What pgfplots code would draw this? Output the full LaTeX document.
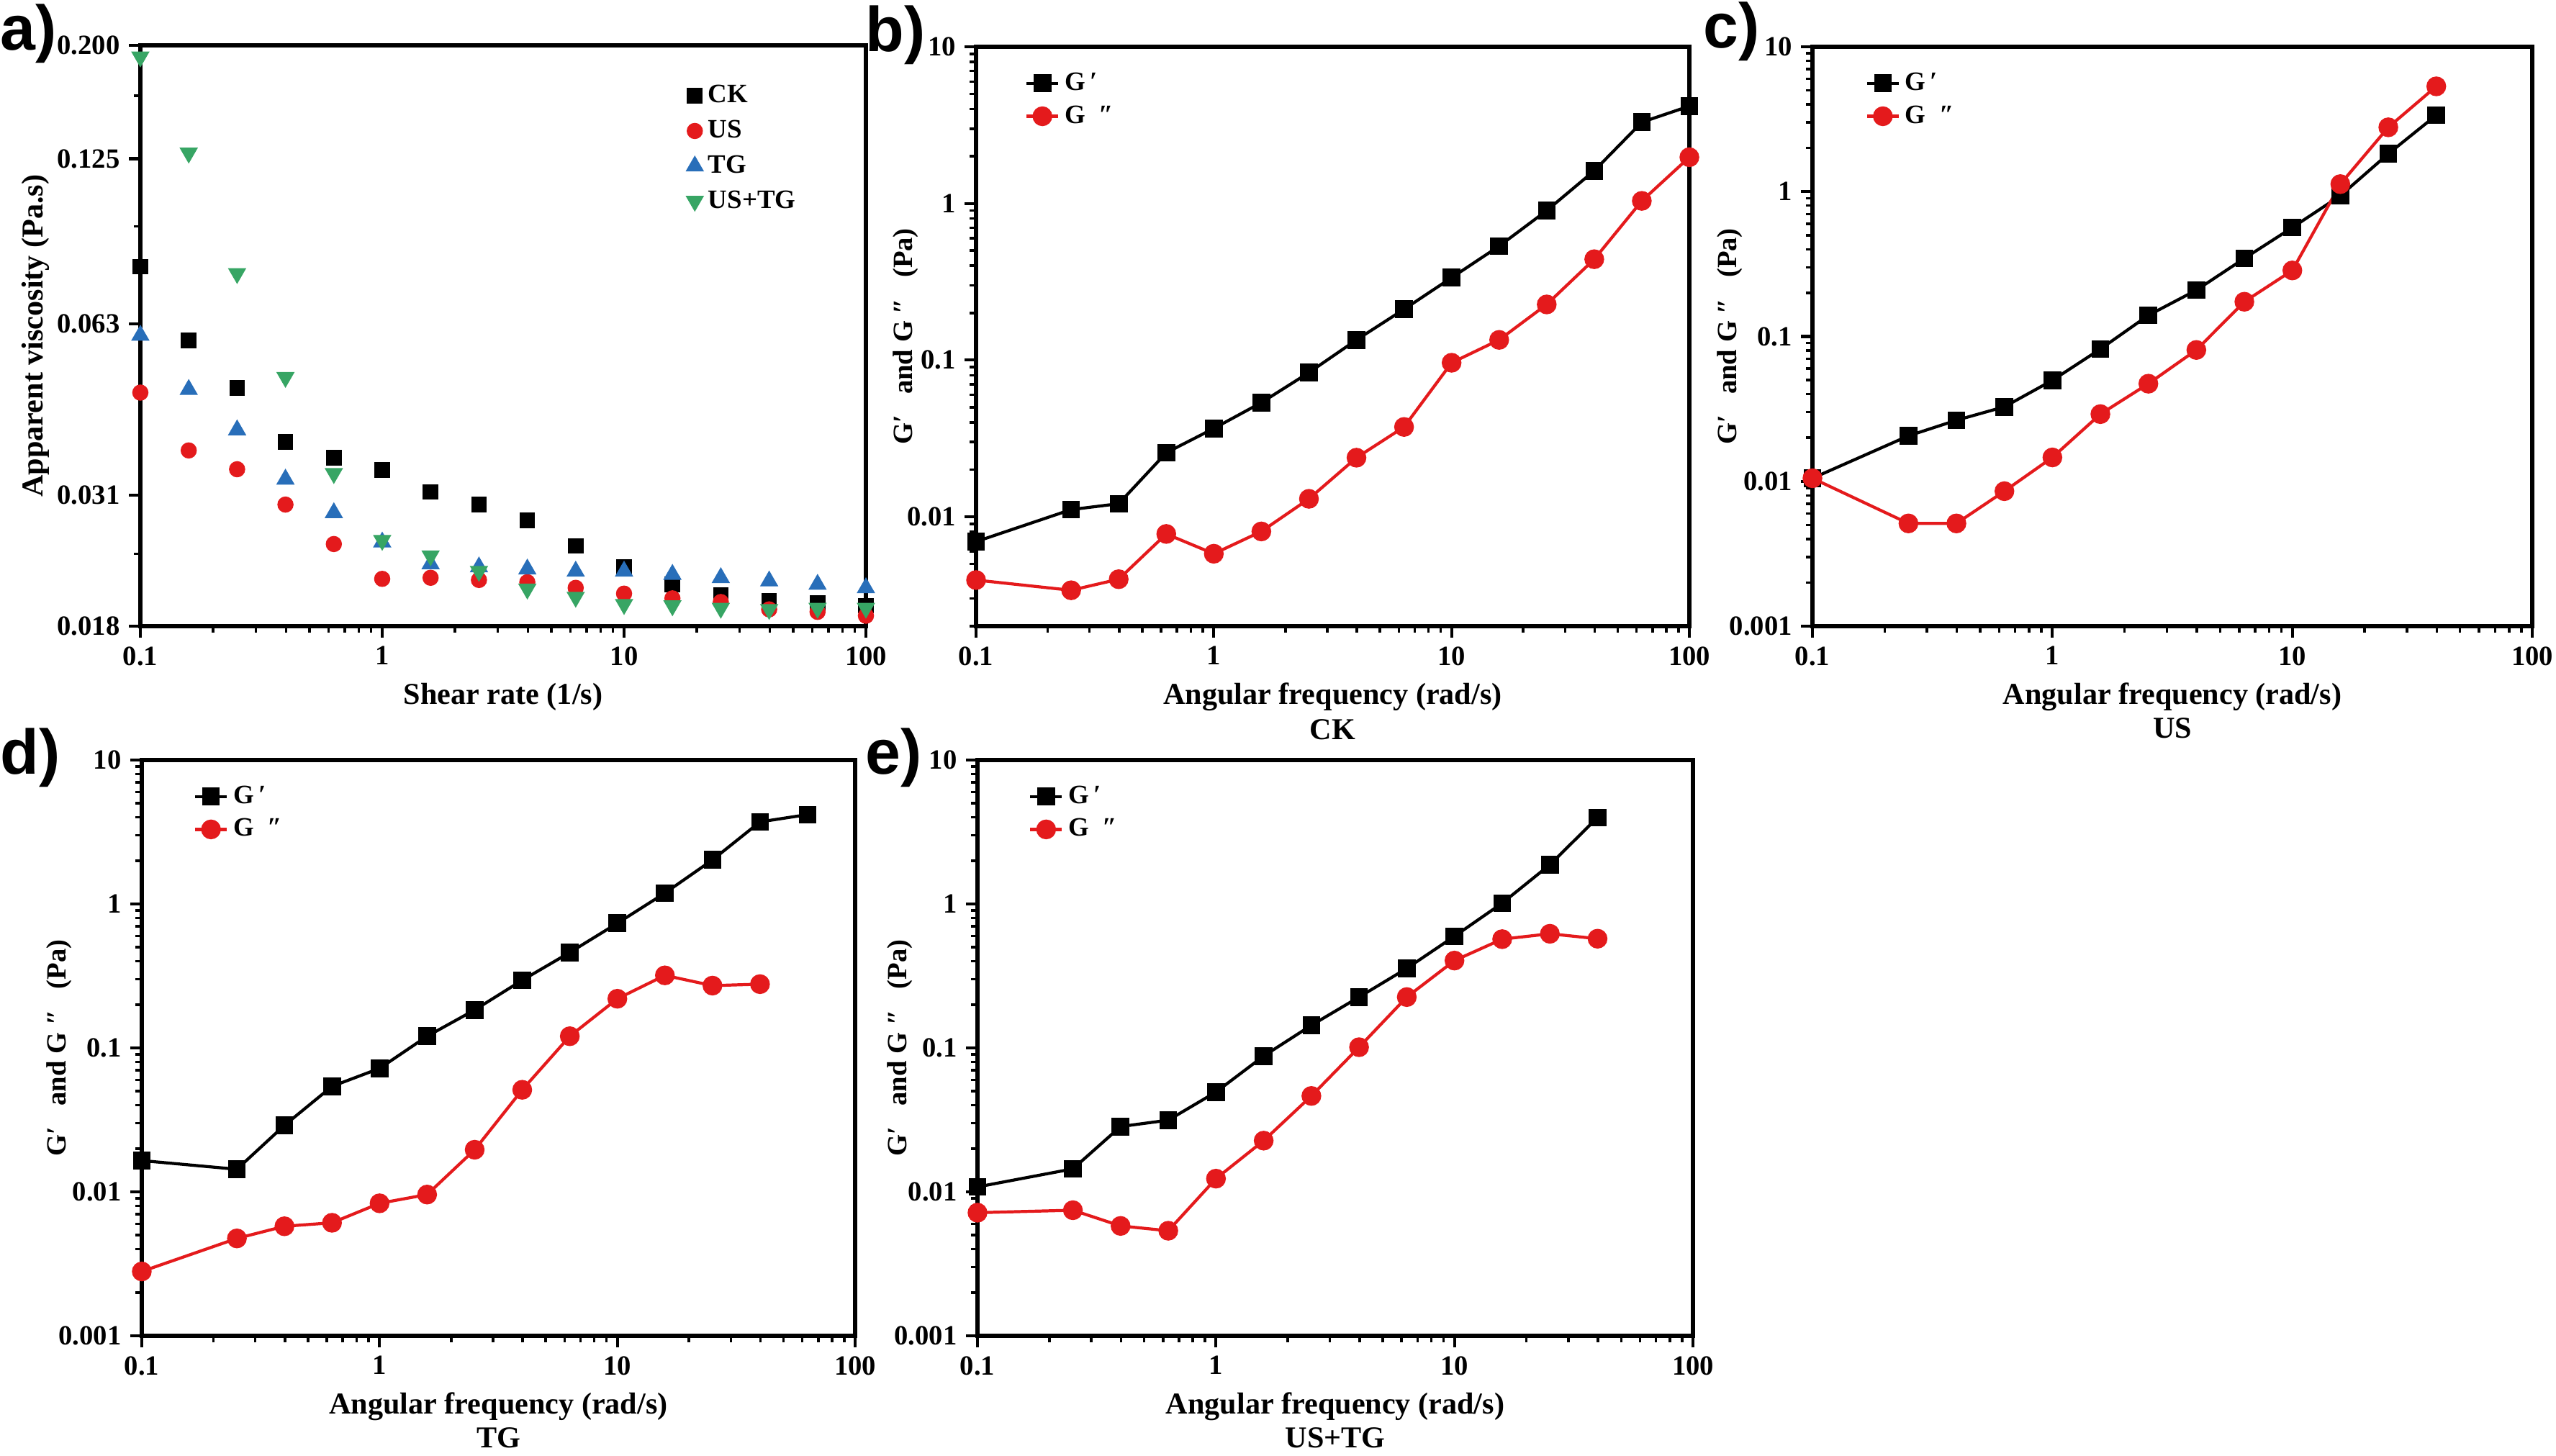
\documentclass[border=0pt]{standalone}
\usepackage{fontspec}
\setmainfont{Liberation Serif}
\newfontfamily\lettfont{Liberation Sans}
\usepackage{pgfplots}
\pgfplotsset{compat=1.18}
\definecolor{myred}{RGB}{228,26,28}
\definecolor{myblue}{RGB}{40,110,185}
\definecolor{mygreen}{RGB}{55,165,100}
\pgfplotsset{
  every axis/.append style={
    scale only axis,
    xmin=0.1, xmax=100,
    axis line style={line width=1.5pt},
    tick pos=left, tick align=outside,
    major tick length=0.16cm, minor tick length=0.09cm,
    every major tick/.append style={line width=1.2pt, black},
    every minor tick/.append style={line width=1pt, black},
    xtick={0.1,1,10,100},
    xticklabels={0.1,1,10,100},
    minor xtick={0.2,0.3,0.4,0.5,0.6,0.7,0.8,0.9,2,3,4,5,6,7,8,9,20,30,40,50,60,70,80,90},
    tick label style={font=\bfseries\fontsize{11}{13}\selectfont},
    xlabel style={align=center, font=\bfseries\fontsize{12}{14}\selectfont},
    ylabel style={anchor=center, font=\bfseries\fontsize{11}{13}\selectfont},
    legend style={draw=none, fill=none, anchor=north west, inner sep=0pt,
      font=\bfseries\fontsize{10.5}{12}\selectfont, row sep=0.02cm,
      cells={anchor=west}},
  },
  gaxis/.style={
    ytick={0.001,0.01,0.1,1,10},
    yticklabels={0.001,0.01,0.1,1,10},
    minor ytick={0.002,0.003,0.004,0.005,0.006,0.007,0.008,0.009,0.02,0.03,0.04,0.05,0.06,0.07,0.08,0.09,0.2,0.3,0.4,0.5,0.6,0.7,0.8,0.9,2,3,4,5,6,7,8,9},
    legend image code/.code={\draw[mark repeat=2,mark phase=2,##1] plot coordinates {(0cm,0cm) (0.22cm,0cm) (0.44cm,0cm)};},
  },
  gp/.style={black, line width=1.2pt, mark=square*, mark size=2.9pt},
  gpp/.style={myred, line width=1.2pt, mark=*, mark size=3.3pt},
}
\newcommand{\gylabel}{G′\enspace\ and G ″\enspace\ (Pa)}
\begin{document}
\begin{tikzpicture}
\useasboundingbox (0,0) rectangle (35.51,20.22);

% ---------------- a) ----------------
\begin{loglogaxis}[at={(1.95cm,11.52cm)}, anchor=south west,
  width=10.08cm, height=8.07cm,
  ymin=0.018, ymax=0.2,
  ytick={0.018,0.031,0.063,0.125,0.2},
  yticklabels={0.018,0.031,0.063,0.125,0.200},
  minor ytick={0.1623,0.0945,0.0243},
  xlabel={Shear rate (1/s)},
  ylabel={Apparent viscosity (Pa.s)},
  ylabel style={at={(axis description cs:-0.144,0.5)}, font=\bfseries\fontsize{12}{14}\selectfont},
  legend style={at={(0.752,0.941)}, row sep=0.05cm},
]
\addplot[only marks, mark=square*, mark size=2.9pt, black] coordinates {
(0.1,0.0799) (0.1585,0.0588) (0.2512,0.0483) (0.3981,0.0386) (0.631,0.0362)
(1,0.0344) (1.585,0.0314) (2.512,0.0298) (3.981,0.0279) (6.31,0.0251)
(10,0.0230) (15.85,0.0214) (25.12,0.0205) (39.81,0.0200) (63.1,0.0198) (100,0.0196)};
\addlegendentry{CK}
\addplot[only marks, mark=*, mark size=3.0pt, myred] coordinates {
(0.1,0.0474) (0.1585,0.0373) (0.2512,0.0345) (0.3981,0.0298) (0.631,0.0253)
(1,0.0219) (1.585,0.0220) (2.512,0.0218) (3.981,0.0216) (6.31,0.0211)
(10,0.0206) (15.85,0.0202) (25.12,0.0199) (39.81,0.0193) (63.1,0.0191) (100,0.0188)};
\addlegendentry{US}
\addplot[only marks, mark=triangle*, mark size=3.8pt, myblue] coordinates {
(0.1,0.0601) (0.1585,0.0480) (0.2512,0.0406) (0.3981,0.0331) (0.631,0.0288)
(1,0.0255) (1.585,0.0233) (2.512,0.0230) (3.981,0.0228) (6.31,0.0226)
(10,0.0226) (15.85,0.0223) (25.12,0.0220) (39.81,0.0217) (63.1,0.0214) (100,0.0211)};
\addlegendentry{TG}
\addplot[only marks, mark=triangle*, mark size=3.8pt, mark options={rotate=180}, mygreen] coordinates {
(0.1,0.1907) (0.1585,0.128) (0.2512,0.0777) (0.3981,0.0505) (0.631,0.0339)
(1,0.0257) (1.585,0.0241) (2.512,0.0226) (3.981,0.0210) (6.31,0.0203)
(10,0.0197) (15.85,0.0196) (25.12,0.0194) (39.81,0.0193) (63.1,0.0194) (100,0.0194)};
\addlegendentry{US+TG}
\end{loglogaxis}

% ---------------- b) ----------------
\begin{loglogaxis}[gaxis, at={(13.56cm,11.52cm)}, anchor=south west,
  width=9.91cm, height=8.05cm,
  ymin=0.002, ymax=10,
  ytick={0.01,0.1,1,10},
  yticklabels={0.01,0.1,1,10},
  xlabel={Angular frequency (rad/s)\\[0cm]CK},
  ylabel={\gylabel},
  ylabel style={at={(axis description cs:-0.099,0.5)}},
  legend style={at={(0.068,0.965)}},
]
\addplot[gp] coordinates {
(0.1,0.00693) (0.2512,0.0111) (0.3981,0.0121) (0.631,0.0256) (1,0.0366)
(1.585,0.0535) (2.512,0.0832) (3.981,0.1345) (6.31,0.211) (10,0.3357)
(15.85,0.534) (25.12,0.900) (39.81,1.617) (63.1,3.30) (100,4.18)};
\addlegendentry{G\,′}
\addplot[gpp] coordinates {
(0.1,0.00394) (0.2512,0.00339) (0.3981,0.00399) (0.631,0.00776) (1,0.0058)
(1.585,0.00805) (2.512,0.0130) (3.981,0.0238) (6.31,0.0374) (10,0.0961)
(15.85,0.1345) (25.12,0.2265) (39.81,0.4403) (63.1,1.038) (100,1.973)};
\addlegendentry{G\enspace″}
\end{loglogaxis}

% ---------------- c) ----------------
\begin{loglogaxis}[gaxis, at={(25.18cm,11.52cm)}, anchor=south west,
  width=10.0cm, height=8.05cm,
  ymin=0.001, ymax=10,
  xlabel={Angular frequency (rad/s)\\[-0.02cm]US},
  ylabel={\gylabel},
  ylabel style={at={(axis description cs:-0.115,0.5)}},
  legend style={at={(0.073,0.965)}},
]
\addplot[gp] coordinates {
(0.1,0.0105) (0.2512,0.0206) (0.3981,0.0264) (0.631,0.0327) (1,0.0498)
(1.585,0.0819) (2.512,0.140) (3.981,0.2088) (6.31,0.346) (10,0.565)
(15.85,0.937) (25.12,1.825) (39.81,3.37)};
\addlegendentry{G\,′}
\addplot[gpp] coordinates {
(0.1,0.0105) (0.2512,0.00512) (0.3981,0.00512) (0.631,0.00855) (1,0.01462)
(1.585,0.0291) (2.512,0.0472) (3.981,0.0807) (6.31,0.1737) (10,0.2857)
(15.85,1.127) (25.12,2.78) (39.81,5.33)};
\addlegendentry{G\enspace″}
\end{loglogaxis}

% ---------------- d) ----------------
\begin{loglogaxis}[gaxis, at={(1.97cm,1.66cm)}, anchor=south west,
  width=9.91cm, height=8.0cm,
  ymin=0.001, ymax=10,
  xlabel={Angular frequency (rad/s)\\[-0.02cm]TG},
  ylabel={\gylabel},
  ylabel style={at={(axis description cs:-0.116,0.5)}},
  legend style={at={(0.072,0.965)}},
]
\addplot[gp] coordinates {
(0.1,0.0165) (0.2512,0.01436) (0.3981,0.0290) (0.631,0.0541) (1,0.0721)
(1.585,0.1206) (2.512,0.1837) (3.981,0.2954) (6.31,0.4605) (10,0.735)
(15.85,1.191) (25.12,2.024) (39.81,3.72) (63.1,4.18)};
\addlegendentry{G\,′}
\addplot[gpp] coordinates {
(0.1,0.0028) (0.2512,0.00475) (0.3981,0.00577) (0.631,0.0061) (1,0.00833)
(1.585,0.00958) (2.512,0.01963) (3.981,0.0512) (6.31,0.1206) (10,0.2197)
(15.85,0.3193) (25.12,0.271) (39.81,0.2775)};
\addlegendentry{G\enspace″}
\end{loglogaxis}

% ---------------- e) ----------------
\begin{loglogaxis}[gaxis, at={(13.58cm,1.66cm)}, anchor=south west,
  width=9.94cm, height=8.0cm,
  ymin=0.001, ymax=10,
  xlabel={Angular frequency (rad/s)\\[-0.02cm]US+TG},
  ylabel={\gylabel},
  ylabel style={at={(axis description cs:-0.108,0.5)}},
  legend style={at={(0.071,0.965)}},
]
\addplot[gp] coordinates {
(0.1,0.01083) (0.2512,0.01445) (0.3981,0.02844) (0.631,0.0315) (1,0.0494)
(1.585,0.0879) (2.512,0.1437) (3.981,0.2256) (6.31,0.357) (10,0.597)
(15.85,1.014) (25.12,1.875) (39.81,3.99)};
\addlegendentry{G\,′}
\addplot[gpp] coordinates {
(0.1,0.00717) (0.2512,0.00746) (0.3981,0.0058) (0.631,0.00537) (1,0.01236)
(1.585,0.0227) (2.512,0.0464) (3.981,0.1012) (6.31,0.2256) (10,0.4045)
(15.85,0.570) (25.12,0.621) (39.81,0.574)};
\addlegendentry{G\enspace″}
\end{loglogaxis}

% panel letters
\tikzset{letter/.style={anchor=base west, inner sep=0pt, font=\lettfont\bfseries\fontsize{25}{30}\selectfont}}
\node[letter] at (0,19.52) {a)};
\node[letter] at (12.02,19.50) {b)};
\node[letter] at (23.66,19.55) {c)};
\node[letter] at (0,9.47) {d)};
\node[letter] at (12.02,9.47) {e)};
\end{tikzpicture}
\end{document}
